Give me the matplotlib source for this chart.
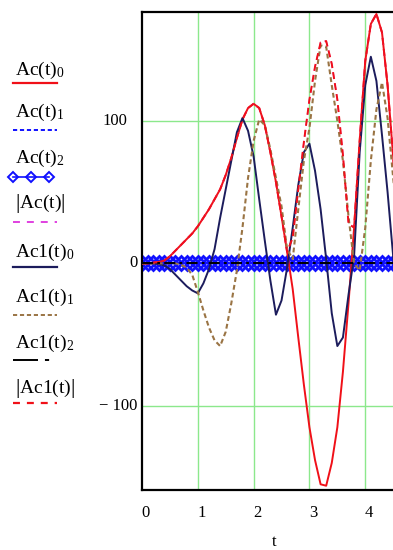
import matplotlib.pyplot as plt
import matplotlib.transforms as mtransforms
from matplotlib.lines import Line2D
import numpy as np

plt.rcParams['font.family'] = ['Liberation Serif', 'DejaVu Serif']
plt.rcParams['mathtext.fontset'] = 'custom'
plt.rcParams['mathtext.rm'] = 'Liberation Serif'
plt.rcParams['mathtext.it'] = 'Liberation Serif:italic'
plt.rcParams['mathtext.bf'] = 'Liberation Serif:bold'
plt.rcParams['lines.scale_dashes'] = False

# sample times
t = [0.0, 0.1, 0.2, 0.3, 0.4, 0.5, 0.6, 0.7, 0.8, 0.9,
     1.0, 1.1, 1.2, 1.3, 1.4, 1.5, 1.6, 1.7, 1.8, 1.9,
     2.0, 2.1, 2.2, 2.3, 2.4, 2.5, 2.6, 2.7, 2.8, 2.9,
     3.0, 3.1, 3.2, 3.3, 3.4, 3.5, 3.6, 3.7, 3.8, 3.9,
     4.0, 4.1, 4.2, 4.3, 4.4, 4.5, 4.6, 4.7]

# Ac(t)_0
ac0 = [0, 0, 0.5, 1, 2, 5, 9, 13, 17, 21,
       26, 32, 38, 45, 52, 62, 74, 88, 101, 109,
       112, 109, 97, 78, 57, 33, 8, -18, -52, -85,
       -115, -138, -155, -156, -140, -115, -76, -28, 25, 86,
       142, 168, 175, 162, 125, 75, 20, -35]
# Ac(t)_1, Ac(t)_2 (zero)
ac1 = [0] * 48
ac2 = [0] * 48
# |Ac(t)|
ac_mag = [0, 0, 0.5, 1, 2, 5, 9, 13, 17, 21,
          26, 32, 38, 45, 52, 62, 74, 88, 101, 109,
          112, 109, 97, 78, 57, 33, 8, 18, 52, 85,
          115, 138, 155, 156, 140, 115, 76, 28, 25, 86,
          142, 168, 175, 162, 125, 75, 20, 35]
# Ac1(t)_0
b0 = [0, 0, 0, -0.5, -1.5, -4, -8, -12, -16, -19,
      -21, -14, -4, 10, 32, 52, 72, 92, 102, 93,
      75, 45, 16, -12, -36, -26, -3, 25, 55, 78,
      84, 65, 38, 3, -35, -58, -52, -22, 5, 78,
      125, 145, 128, 90, 50, 5, -40, -80]
# Ac1(t)_1
b1 = [0, 0, 0, 0, 0, 0, 0, -1, -3, -8,
      -20, -33, -45, -54, -58, -48, -28, -5, 25, 60,
      86, 101, 97, 80, 60, 40, 10, 3, 38, 72,
      95, 128, 153, 152, 125, 100, 72, 33, 0, -5,
      25, 72, 108, 127, 102, 60, 20, -20]
# Ac1(t)_2 (zero)
b2 = [0] * 48
# |Ac1(t)|
b_mag = [0, 0, 0.5, 1, 2, 5, 9, 13, 17, 21,
         26, 32, 38, 45, 52, 62, 74, 88, 101, 109,
         112, 109, 97, 78, 57, 33, 8, 18, 52, 85,
         115, 138, 155, 156, 140, 115, 76, 28, 25, 86,
         142, 168, 175, 162, 125, 75, 20, 35]

xticks = [0, 1, 2, 3, 4]
yticks = [-100, 0, 100]
ytick_labels = ['\u2212 100', '0', '100']

RED = '#f01018'
NAVY = '#1c1c5c'
BROWN = '#9a7444'
BLUE = '#1010ff'
MAGENTA = '#e040e0'
GRID = '#8ce88c'

W, H = 393, 550
fig = plt.figure(figsize=(W / 100, H / 100), dpi=100)
ax = fig.add_axes([142 / W, (H - 490) / H, (406 - 142) / W, (490 - 11.7) / H])
ax.set_xlim(0, 4.73)
ax.set_ylim(-159, 176.6)

for x in [1, 2, 3, 4]:
    ax.axvline(x, color=GRID, lw=1, zorder=0)
for y in yticks:
    ax.axhline(y, color=GRID, lw=1, zorder=0)

ax.plot(t, ac1, color=BLUE, lw=1.4, dashes=(4, 2.5), zorder=2)
ax.plot(t, ac2, color=BLUE, lw=1.2, marker='D', ms=7.5, mfc='none', mec=BLUE, mew=2.0, zorder=2)
ax.plot(t, ac0, color=RED, lw=1.4, zorder=3)
ax.plot(t, ac_mag, color=MAGENTA, lw=1.0, dashes=(5, 3), zorder=3)
ax.plot(t, b0, color=NAVY, lw=1.4, zorder=4)
ax.plot(t, b1, color=BROWN, lw=1.5, dashes=(3.5, 2.2), zorder=4)
ax.plot(t, b2, color='black', lw=1.4, dashes=(8, 3, 2, 3), zorder=5)
ax.plot(t, b_mag, color=RED, lw=1.4, dashes=(5, 3), zorder=4)

for s in ['left', 'bottom', 'top']:
    ax.spines[s].set_linewidth(1.6)
ax.spines['right'].set_visible(False)

ax.set_xticks(xticks)
ax.set_xticklabels([str(v) for v in xticks], fontsize=12)
ax.tick_params(axis='x', length=0, pad=11)
offset = mtransforms.ScaledTranslation(4 / 100, 0, fig.dpi_scale_trans)
for lab in ax.get_xticklabels():
    lab.set_transform(lab.get_transform() + offset)
ax.set_yticks([])

# y tick labels (Mathcad places them irregularly)
ylab_right = [137, 138, 127]
for v, s, xr in zip(yticks, ytick_labels, ylab_right):
    tr = mtransforms.blended_transform_factory(fig.transFigure, ax.transData)
    ax.text(xr / W, v, s, transform=tr, ha='right', va='center', fontsize=12, clip_on=False)

fig.text(274 / W, 1 - 542 / H, 't', ha='center', va='center', fontsize=12)

# legend on the left
leg_labels = [r'$\mathrm{Ac(t)}_0$', r'$\mathrm{Ac(t)}_1$', r'$\mathrm{Ac(t)}_2$',
              r'$\left|\mathrm{Ac(t)}\right|$',
              r'$\mathrm{Ac1(t)}_0$', r'$\mathrm{Ac1(t)}_1$', r'$\mathrm{Ac1(t)}_2$',
              r'$\left|\mathrm{Ac1(t)}\right|$']
leg_base = [75, 117, 163, 208, 257, 302, 348, 393]
leg_line = [83, 130, 177, 222, 267, 315, 360, 403]
leg_styles = [
    dict(color=RED, lw=1.6),
    dict(color=BLUE, lw=1.4, dashes=(3, 2)),
    dict(color=BLUE, lw=1.2, marker='D', ms=5, mfc='none', mew=1.4),
    dict(color=MAGENTA, lw=1.4, dashes=(5, 5)),
    dict(color=NAVY, lw=1.6),
    dict(color=BROWN, lw=1.4, dashes=(3, 2)),
    dict(color='black', lw=1.4, dashes=(18, 5, 3, 20)),
    dict(color=RED, lw=1.6, dashes=(5, 5)),
]
for lab, yb, yl, st in zip(leg_labels, leg_base, leg_line, leg_styles):
    fig.text(15 / W, 1 - yb / H, lab, ha='left', va='baseline', fontsize=14)
    if 'marker' in st:
        xs = [13 / W, 31 / W, 49 / W]
        ys = [1 - yl / H] * 3
    else:
        xs = [13 / W, 57 / W]
        ys = [1 - yl / H] * 2
    fig.add_artist(Line2D(xs, ys, transform=fig.transFigure, **st))

fig.savefig('out.png', dpi=100)
